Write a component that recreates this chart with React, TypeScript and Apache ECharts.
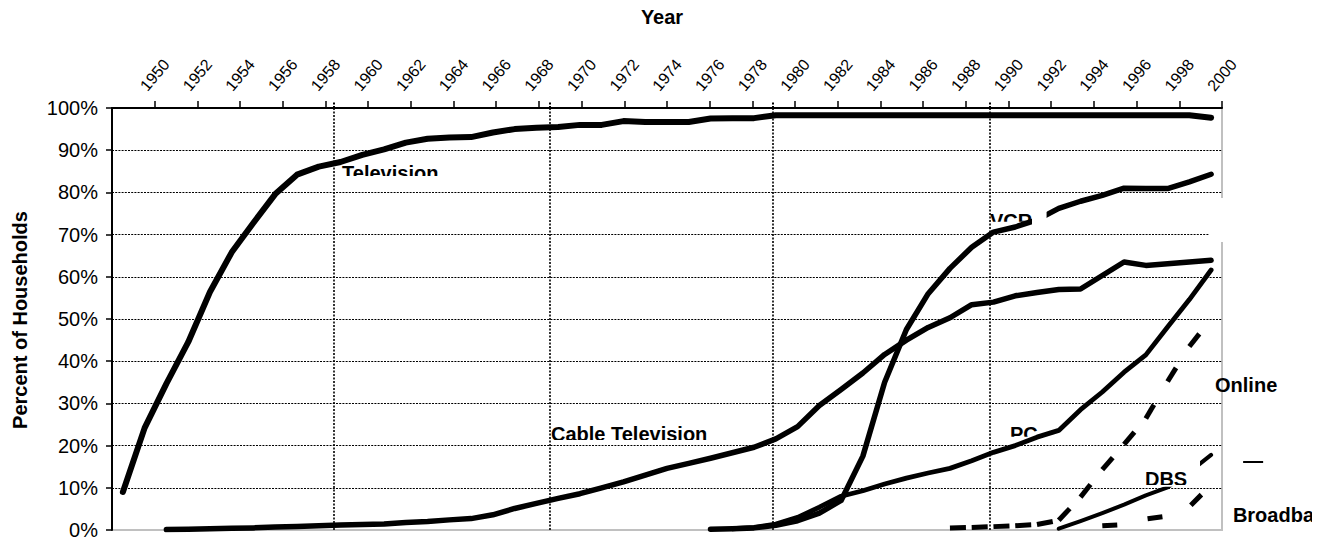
import React, { useEffect, useRef } from 'react';
import * as echarts from 'echarts';

const FONT = '"Liberation Sans", Arial, Helvetica, sans-serif';

// Share of households (%) owning each technology, one value per year.
const televisionStart = 1950;
const television = [
  9.0, 24.2, 34.7, 44.5, 56.4, 65.8, 72.8, 79.6, 84.2, 86.1,
  87.2, 88.9, 90.2, 91.8, 92.7, 93.0, 93.1, 94.2, 95.0, 95.3,
  95.5, 96.0, 96.0, 96.9, 96.7, 96.7, 96.7, 97.5, 97.6, 97.6,
  98.3, 98.3, 98.3, 98.3, 98.3, 98.3, 98.3, 98.3, 98.3, 98.3,
  98.3, 98.3, 98.3, 98.3, 98.3, 98.3, 98.3, 98.3, 98.3, 98.3,
  97.7,
];

const cableStart = 1952;
const cable = [
  0.1, 0.2, 0.3, 0.4, 0.5, 0.7, 0.8, 1.0,
  1.2, 1.3, 1.4, 1.8, 2.0, 2.4, 2.7, 3.6, 5.1, 6.3,
  7.5, 8.6, 10.0, 11.4, 13.0, 14.6, 15.8, 17.0, 18.3, 19.6,
  21.6, 24.5, 29.5, 33.3, 37.2, 41.6, 45.0, 48.0, 50.3, 53.4,
  54.0, 55.5, 56.3, 57.0, 57.1, 60.3, 63.5, 62.7, 63.1, 63.5,
  63.9,
];

const vcrStart = 1977;
const vcr = [
  0.2, 0.3, 0.5,
  1.1, 2.2, 4.0, 7.0, 17.5, 35.0, 47.5, 56.0, 62.0, 67.0,
  70.6, 71.8, 73.5, 76.2, 77.9, 79.3, 81.0, 80.9, 80.9, 82.5,
  84.3,
];

const pcStart = 1978;
const pc = [
  0.3, 0.6,
  1.4, 3.0, 5.4, 8.0, 9.3, 10.9, 12.3, 13.5, 14.6, 16.4,
  18.4, 20.0, 22.0, 23.6, 28.5, 32.7, 37.4, 41.5, 48.1, 54.6,
  61.6,
];

const onlineStart = 1988;
const online = [0.5, 0.6, 0.8, 1.0, 1.3, 2.3, 7.8, 14.3, 20.3, 26.4, 35.2, 43.5, 50.0];

const dbsStart = 1993;
const dbs = [0.3, 2.1, 4.0, 6.0, 8.2, 10.1, 13.7, 17.8];

const broadbandStart = 1995;
const broadband = [1.0, 1.3, 2.6, 3.3, 5.5, 10.7];

// Year labels along the top axis
const yearAxisMin = 1948;
const yearAxisMax = 2000;
const yearAxisStep = 2;

// Vertical reference lines across the plot
const decadeMarks = [1959.67, 1969.62, 1979.86, 1989.84];

// Series names written inside the plot: left edge, middle line, and where the text box cuts off
const seriesNotes = [
  { text: 'Television', at: [1960.07, 84.6], cutY: 83.9 },
  { text: 'VCR', at: [1989.84, 73.3], cutY: 73.06 },
  { text: 'Cable Television', at: [1969.67, 22.75], cutY: 21.33 },
  { text: 'PC', at: [1990.76, 22.75], cutY: 22.1 },
  { text: 'DBS', at: [1996.96, 12.09], cutY: 10.66 },
  { text: 'Online', at: [2000.18, 34.36] },
  { text: 'Broadband', at: [2001.0, 3.55], cutX: 2004.64 },
];

// Opaque text boxes laid over the plot: [x0, yTop, x1, yBottom]
const textBoxes = [
  [1991.77, 76.5, 1992.44, 71.56],
  [1996.73, 17.5, 1999.49, 10.25],
  [1999.9, 78.67, 2006.0, 68.25],
];

// Short legend stroke beside the DBS entry
const legendStroke = [2001.47, 2002.39, 16.11];

const toPairs = (start: number, values: number[]) => values.map((v, i) => [start + i, v]);

export default function App() {
  const ref = useRef<HTMLDivElement>(null);

  useEffect(() => {
    if (!ref.current) return;
    const chart = echarts.init(ref.current, undefined, { renderer: 'svg' });

    const onlinePairs = toPairs(onlineStart, online);

    const lineSeries = (name: string, data: number[][], width: number, type: any = 'solid') => ({
      name,
      type: 'line',
      data,
      xAxisIndex: 0,
      yAxisIndex: 0,
      symbol: 'none',
      showSymbol: false,
      silent: true,
      z: 2,
      lineStyle: {
        color: '#000',
        width,
        type,
        cap: type === 'solid' ? 'round' : 'butt',
        join: 'round',
      },
    });

    const option: any = {
      animation: false,
      backgroundColor: '#fff',
      textStyle: { fontFamily: FONT },
      grid: {
        left: 112,
        right: 103,
        top: 108,
        bottom: 16,
        show: true,
        borderColor: '#c0c0c0',
        borderWidth: 2,
        backgroundColor: 'transparent',
        containLabel: false,
        outerBoundsMode: 'none',
      },
      xAxis: [
        {
          type: 'value',
          min: 1949.5,
          max: 2000.5,
          position: 'top',
          axisLine: { show: false, onZero: false },
          axisTick: {
            show: true,
            customValues: decadeMarks,
            length: 7,
            lineStyle: { color: '#000', width: 2, type: [2, 1.5] },
          },
          axisLabel: { show: false },
          splitLine: {
            show: true,
            lineStyle: { color: '#000', width: 1.6, type: [2, 1.5] },
          },
        },
        {
          type: 'value',
          min: yearAxisMin,
          max: yearAxisMax,
          interval: yearAxisStep,
          position: 'top',
          axisLine: { show: true, onZero: false, lineStyle: { color: '#000', width: 2 } },
          axisTick: { show: true, length: 7, lineStyle: { color: '#000', width: 1.5 } },
          axisLabel: {
            show: true,
            showMinLabel: false,
            rotate: -50,
            fontSize: 16,
            color: '#000',
            margin: 33,
            align: 'center',
            verticalAlign: 'middle',
            formatter: (v: number) => String(v),
          },
          splitLine: { show: false },
        },
      ],
      yAxis: {
        type: 'value',
        min: 0,
        max: 100,
        interval: 10,
        axisLine: { show: true, onZero: false, lineStyle: { color: '#000', width: 2 } },
        axisTick: { show: true, length: 6, lineStyle: { color: '#000', width: 1.5 } },
        axisLabel: { formatter: '{value}%', fontSize: 20, color: '#000', margin: 14 },
        splitLine: {
          show: true,
          showMinLine: false,
          showMaxLine: false,
          lineStyle: { color: '#000', width: 1.2, type: [2, 1.2] },
        },
      },
      graphic: [
        {
          type: 'text',
          x: 662,
          y: 17,
          silent: true,
          style: {
            text: 'Year',
            font: `bold 20px ${FONT}`,
            fill: '#000',
            textAlign: 'center',
            align: 'center',
            textVerticalAlign: 'middle',
            verticalAlign: 'middle',
          },
        },
        {
          type: 'text',
          x: 20,
          y: 320,
          rotation: Math.PI / 2,
          silent: true,
          style: {
            text: 'Percent of Households',
            font: `bold 20px ${FONT}`,
            fill: '#000',
            textAlign: 'center',
            align: 'center',
            textVerticalAlign: 'middle',
            verticalAlign: 'middle',
          },
        },
      ],
      series: [
        lineSeries('Television', toPairs(televisionStart, television), 6),
        lineSeries('Cable Television', toPairs(cableStart, cable), 5.5),
        lineSeries('VCR', toPairs(vcrStart, vcr), 5.5),
        lineSeries('PC', toPairs(pcStart, pc), 4.8),
        lineSeries('DBS', toPairs(dbsStart, dbs), 4),
        lineSeries('Broadband', toPairs(broadbandStart, broadband), 5, [15, 31]),
        {
          // Online: each yearly segment starts its own dash
          name: 'Online',
          type: 'custom',
          coordinateSystem: 'cartesian2d',
          xAxisIndex: 0,
          yAxisIndex: 0,
          silent: true,
          z: 2,
          data: onlinePairs,
          encode: { x: 0, y: 1 },
          renderItem: (params: any, api: any) => {
            const i = params.dataIndex;
            if (i >= onlinePairs.length - 1) return null;
            const a = api.coord(onlinePairs[i]);
            const b = api.coord(onlinePairs[i + 1]);
            return {
              type: 'line',
              shape: { x1: a[0], y1: a[1], x2: b[0], y2: b[1] },
              style: { stroke: '#000', lineWidth: 5, lineDash: [16, 400], lineCap: 'butt' },
            };
          },
        },
        {
          name: 'notes',
          type: 'custom',
          coordinateSystem: 'cartesian2d',
          xAxisIndex: 0,
          yAxisIndex: 0,
          silent: true,
          z: 10,
          data: [[1975, 50]],
          encode: { x: 0, y: 1 },
          renderItem: (_params: any, api: any) => {
            const children: any[] = [];
            textBoxes.forEach(([x0, y0, x1, y1]) => {
              const a = api.coord([x0, y0]);
              const b = api.coord([x1, y1]);
              children.push({
                type: 'rect',
                shape: { x: a[0], y: a[1], width: b[0] - a[0], height: b[1] - a[1] },
                style: { fill: '#fff' },
              });
            });
            const s0 = api.coord([legendStroke[0], legendStroke[2]]);
            const s1 = api.coord([legendStroke[1], legendStroke[2]]);
            children.push({
              type: 'line',
              shape: { x1: s0[0], y1: s0[1], x2: s1[0], y2: s1[1] },
              style: { stroke: '#000', lineWidth: 2 },
            });
            seriesNotes.forEach((n: any) => {
              const p = api.coord(n.at);
              const text = {
                type: 'text',
                x: p[0],
                y: p[1],
                style: {
                  text: n.text,
                  font: `bold 20px ${FONT}`,
                  fill: '#000',
                  textAlign: 'left',
                  align: 'left',
                  textVerticalAlign: 'middle',
                  verticalAlign: 'middle',
                },
              };
              if (n.cutY !== undefined || n.cutX !== undefined) {
                const right = n.cutX !== undefined ? api.coord([n.cutX, 0])[0] : p[0] + 400;
                const bottom = n.cutY !== undefined ? api.coord([0, n.cutY])[1] : p[1] + 30;
                children.push({
                  type: 'group',
                  children: [text],
                  clipPath: {
                    type: 'rect',
                    shape: { x: p[0] - 10, y: p[1] - 30, width: right - p[0] + 10, height: bottom - p[1] + 30 },
                  },
                });
              } else {
                children.push(text);
              }
            });
            return { type: 'group', children };
          },
        },
      ],
    };

    chart.setOption(option);
    return () => chart.dispose();
  }, []);

  return (
    <div
      ref={ref}
      style={{ position: 'fixed', left: 0, top: 0, width: 1325, height: 546, background: '#fff' }}
    />
  );
}
